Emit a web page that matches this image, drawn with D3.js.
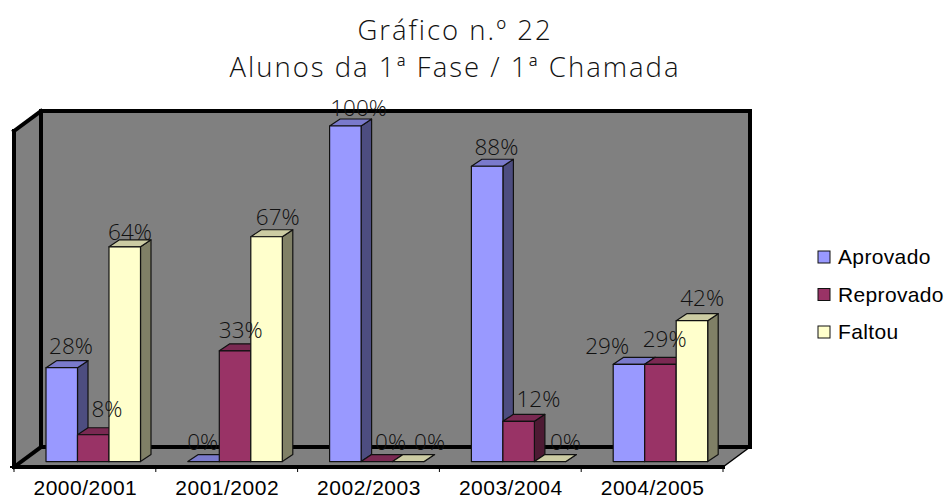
<!DOCTYPE html>
<html><head><meta charset="utf-8">
<script src="https://cdn.jsdelivr.net/npm/d3@7"></script>
<style>html,body{margin:0;background:#fff}svg{display:block}</style></head>
<body><svg id="c" width="946" height="500"></svg>
<script>
const titleLines=["Gráfico n.º 22","Alunos da 1ª Fase / 1ª Chamada"];
const categories=["2000/2001","2001/2002","2002/2003","2003/2004","2004/2005"];
const seriesNames=["Aprovado","Reprovado","Faltou"];
const aprovado=[28,0,100,88,29];
const reprovado=[8,33,0,12,29];
const faltou=[64,67,0,0,42];
const seriesValues=[aprovado,reprovado,faltou];
const front=["#9999ff","#993366","#ffffcc"], top3=["#7a7acc","#7a2952","#cccca3"], side=["#4d4d80","#4d1a33","#808066"];
// label offsets from each bar's front-top-left corner, as placed in the reference
const labelDx=[[25,29.5,21],[15,21.5,27],[29,29.5,37],[25,35.5,31],[-6,20,26]];
const labelDy=[[-13.6,-18,-7],[-11.6,-13,-12],[-10,-11.6,-11.6],[-11,-14,-11.6],[-10,-17,-14.6]];

const svg=d3.select("#c");
const F={x0:14,x1:723,y:467}, dx=27, dy=-20, wallTop=111;
const x=d3.scaleBand().domain(categories).range([F.x0,F.x1]);
const xs=d3.scaleBand().domain(d3.range(3)).range([32,126.5]);
const y=d3.scaleLinear().domain([0,100]).range([461.6,126]);
const ddx=10.5, ddy=-7;

// walls
const pts=a=>a.map(p=>p.join(",")).join(" ");
svg.append("polygon").attr("fill","#808080").attr("points",pts([[F.x0,wallTop-dy],[F.x0+dx,wallTop],[F.x1+dx,wallTop],[F.x1+dx,F.y+dy],[F.x1,F.y],[F.x0,F.y]]));
const thick=[[[F.x0,F.y],[F.x0,wallTop-dy]],[[F.x0,wallTop-dy],[F.x0+dx,wallTop]],[[F.x0+dx,wallTop],[F.x1+dx,wallTop]],[[F.x1+dx,wallTop],[F.x1+dx,F.y+dy]],[[F.x0+dx,wallTop],[F.x0+dx,F.y+dy]],[[F.x0+dx,F.y+dy],[F.x1+dx,F.y+dy]],[[F.x0,F.y],[F.x0+dx,F.y+dy]],[[F.x0,F.y],[F.x1,F.y]]];
thick.forEach(s=>svg.append("line").attr("x1",s[0][0]).attr("y1",s[0][1]).attr("x2",s[1][0]).attr("y2",s[1][1]).attr("stroke","#000").attr("stroke-width",4).attr("stroke-linecap","square"));
svg.append("line").attr("x1",F.x1).attr("y1",F.y).attr("x2",F.x1+dx).attr("y2",F.y+dy).attr("stroke","#000").attr("stroke-width",1.5);
// ticks
svg.append("g").selectAll("line").data(d3.range(6)).join("line")
  .attr("x1",i=>F.x0+i*x.bandwidth()).attr("x2",i=>F.x0+i*x.bandwidth())
  .attr("y1",F.y).attr("y2",F.y+5).attr("stroke","#000");
svg.append("line").attr("x1",F.x0-4).attr("x2",F.x0).attr("y1",F.y).attr("y2",F.y).attr("stroke","#000").attr("stroke-width",2);

// bars
const bars=[];
categories.forEach((c,ci)=>seriesNames.forEach((s,si)=>bars.push({c,ci,si,v:seriesValues[si][ci]})));
const g=svg.append("g").attr("stroke","#111").attr("stroke-width",1.2).attr("stroke-linejoin","round");
bars.forEach(b=>{
  const x0=x(b.c)+xs(b.si), x1=x0+xs.bandwidth(), yt=y(b.v), yb=y(0);
  g.append("polygon").attr("fill",side[b.si]).attr("points",pts([[x1,yt],[x1+ddx,yt+ddy],[x1+ddx,yb+ddy],[x1,yb]]));
  g.append("polygon").attr("fill",top3[b.si]).attr("points",pts([[x0,yt],[x0+ddx,yt+ddy],[x1+ddx,yt+ddy],[x1,yt]]));
  g.append("rect").attr("fill",front[b.si]).attr("x",x0).attr("y",yt).attr("width",x1-x0).attr("height",yb-yt);
});
// data labels
svg.append("g").attr("font-family","'Open Sans'").attr("font-size",22.5).attr("fill","#111").attr("text-anchor","middle").attr("font-weight",300)
 .selectAll("text").data(bars).join("text")
 .attr("x",b=>x(b.c)+xs(b.si)+labelDx[b.ci][b.si]).attr("y",b=>y(b.v)+labelDy[b.ci][b.si]).text(b=>b.v+"%");
// category labels
svg.append("g").attr("font-family","'Liberation Sans'").attr("font-size",21).attr("letter-spacing",0.5).attr("fill","#000").attr("text-anchor","middle")
 .selectAll("text").data(categories).join("text")
 .attr("x",c=>x(c)+x.bandwidth()/2+0.5).attr("y",495.4).text(c=>c);
// title
svg.append("g").attr("font-family","'Open Sans'").attr("font-weight",300).attr("font-size",27.5).attr("fill","#111").attr("text-anchor","middle").attr("letter-spacing",2)
 .selectAll("text").data(titleLines).join("text")
 .attr("x",455).attr("y",(d,i)=>40+i*37).text(d=>d);
// legend
const lg=svg.append("g").selectAll("g").data(seriesNames).join("g").attr("transform",(d,i)=>`translate(818,${251+i*37.5})`);
lg.append("rect").attr("width",12).attr("height",12).attr("fill",(d,i)=>front[i]).attr("stroke","#111");
lg.append("text").attr("x",20).attr("y",13).attr("font-family","'Liberation Sans'").attr("font-size",21).attr("letter-spacing",0.35).attr("fill","#000").text(d=>d);
</script></body></html>
